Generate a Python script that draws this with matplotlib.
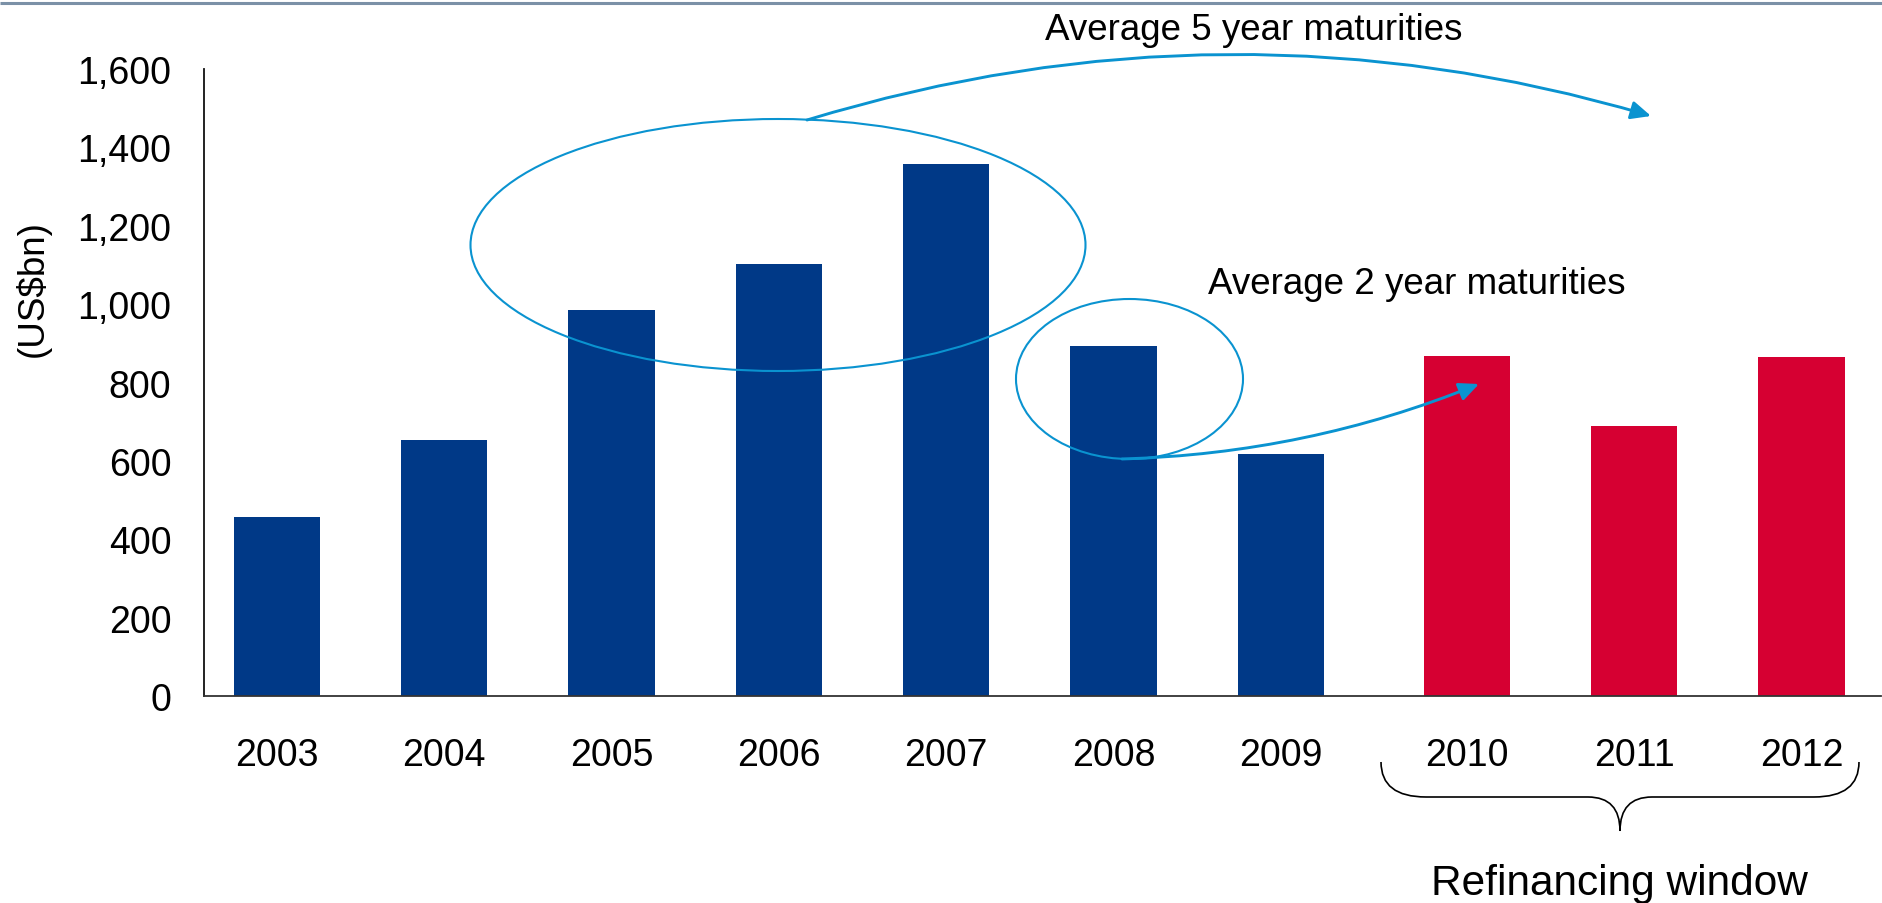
import numpy as np
import matplotlib
matplotlib.use("Agg")
import matplotlib.pyplot as plt
from matplotlib.patches import Ellipse, FancyArrowPatch, PathPatch
from matplotlib.path import Path

# ---------------- data ----------------
years = ["2003", "2004", "2005", "2006", "2007", "2008", "2009", "2010", "2011", "2012"]
values = [458, 652, 984, 1103, 1358, 894, 618, 868, 690, 865]
refinancing = [False, False, False, False, False, False, False, True, True, True]
y_ticks = [0, 200, 400, 600, 800, 1000, 1200, 1400, 1600]
y_tick_labels = ["0", "200", "400", "600", "800", "1,000", "1,200", "1,400", "1,600"]

# ---------------- style ----------------
BLUE = "#003987"
RED = "#D60032"
CYAN = "#0A93D0"
FONT = ["Liberation Sans", "DejaVu Sans"]
plt.rcParams["font.family"] = FONT

W, H = 1883, 904
fig = plt.figure(figsize=(W / 100, H / 100), dpi=100)
fig.patch.set_facecolor("white")

# main axes, positioned in figure fractions
left_px, right_px, bottom_px, top_px = 204, 1881, 697, 70
ax = fig.add_axes([left_px / W, (H - bottom_px) / H,
                   (right_px - left_px) / W, (bottom_px - top_px) / H])

group_gap = 0.112
x = np.arange(len(years)) + np.where(refinancing, group_gap, 0.0)
colors = [RED if r else BLUE for r in refinancing]
ax.bar(x, values, width=0.515, color=colors, zorder=2)

ax.set_xlim(-0.436, x[-1] + 0.475)
ax.set_ylim(0, 1600)
ax.set_yticks(y_ticks)
ax.set_yticklabels(y_tick_labels)
ax.set_xticks(x)
ax.set_xticklabels(years)
ax.tick_params(axis="y", length=0, pad=23.5, labelsize=27)
ax.tick_params(axis="x", length=0, pad=29.5, labelsize=27)
for s in ["top", "right"]:
    ax.spines[s].set_visible(False)
ax.spines["left"].set_linewidth(1.3)
ax.spines["bottom"].set_linewidth(1.3)
ax.spines["left"].set_color("#111111")
ax.spines["bottom"].set_color("#333333")

# overlay axes in pixel coordinates for annotations
ov = fig.add_axes([0, 0, 1, 1], zorder=5)
ov.set_xlim(0, W)
ov.set_ylim(H, 0)
ov.axis("off")
ov.patch.set_alpha(0)

# y-axis title
ov.text(33, 289, "(US$bn)", fontsize=26.5, rotation=90, ha="center", va="center")

# top rule
ov.plot([0, W], [3.5, 3.5], color="#7b91a7", lw=2.2, solid_capstyle="butt")

# ellipses
ov.add_patch(Ellipse((778, 246), 615, 252, fill=False, ec=CYAN, lw=1.5))
ov.add_patch(Ellipse((1129.5, 380), 227, 160, fill=False, ec=CYAN, lw=1.5))

# arrows
arrow_style = "-|>,head_length=12,head_width=5.5"
ov.add_patch(FancyArrowPatch((807, 121), (1651, 117),
                             connectionstyle="arc3,rad=-0.15",
                             arrowstyle=arrow_style, mutation_scale=1,
                             color=CYAN, lw=2.1, shrinkA=0, shrinkB=0))
ov.add_patch(FancyArrowPatch((1122, 460), (1479, 385),
                             connectionstyle="arc3,rad=0.09",
                             arrowstyle=arrow_style, mutation_scale=1,
                             color=CYAN, lw=2.1, shrinkA=0, shrinkB=0))

# texts
ov.text(1254, 40, "Average 5 year maturities", fontsize=26.5, ha="center", va="baseline")
ov.text(1417, 294, "Average 2 year maturities", fontsize=26.5, ha="center", va="baseline")
ov.text(1619, 895, "Refinancing window", fontsize=30.5, ha="center", va="baseline")

# curly brace under refinancing window
xl, xr, xc = 1381, 1859, 1620
yt, ym, yb = 763, 798, 832
verts = [(xl, yt), (xl, ym), (xl + 45, ym),
         (xc - 32, ym),
         (xc, ym), (xc, yb),
         (xc, ym), (xc + 32, ym),
         (xr - 45, ym),
         (xr, ym), (xr, yt)]
codes = [Path.MOVETO, Path.CURVE3, Path.CURVE3,
         Path.LINETO,
         Path.CURVE3, Path.CURVE3,
         Path.CURVE3, Path.CURVE3,
         Path.LINETO,
         Path.CURVE3, Path.CURVE3]
ov.add_patch(PathPatch(Path(verts, codes), fill=False, ec="black", lw=1.2))

fig.savefig("out.png", dpi=100, facecolor="white")
